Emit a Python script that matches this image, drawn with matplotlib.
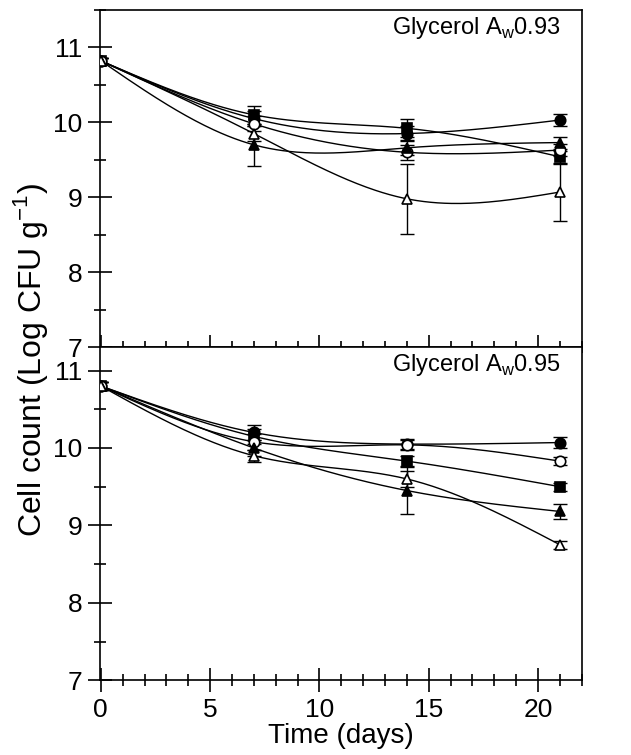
import numpy as np
import matplotlib
matplotlib.use("Agg")
import matplotlib.pyplot as plt
from matplotlib.ticker import MultipleLocator

plt.rcParams['font.family'] = ['Liberation Sans', 'DejaVu Sans']
plt.rcParams['mathtext.fontset'] = 'custom'
plt.rcParams['mathtext.rm'] = 'Liberation Sans'

days = np.array([0, 7, 14, 21])

# Aw 0.93
top_filled_circle = [10.82, 10.05, 9.85, 10.03]
top_filled_square = [10.82, 10.10, 9.92, 9.54]
top_open_circle = [10.82, 9.98, 9.60, 9.63]
top_filled_tri = [10.82, 9.70, 9.66, 9.73]
top_open_tri = [10.82, 9.85, 8.98, 9.07]
top_err = {
    'fc': [0.04, 0.10, 0.10, 0.08],
    'fs': [0.04, 0.12, 0.12, 0.08],
    'oc': [0.04, 0.10, 0.10, 0.08],
    'ft': [0.04, 0.28, 0.10, 0.08],
    'ot': [0.04, 0.10, 0.47, 0.38],
}

# Aw 0.95
bot_filled_circle = [10.80, 10.20, 10.05, 10.07]
bot_filled_square = [10.80, 10.15, 9.83, 9.50]
bot_open_circle = [10.80, 10.08, 10.04, 9.83]
bot_filled_tri = [10.80, 10.00, 9.45, 9.18]
bot_open_tri = [10.80, 9.90, 9.60, 8.75]
bot_err = {
    'fc': [0.05, 0.10, 0.06, 0.07],
    'fs': [0.05, 0.10, 0.06, 0.05],
    'oc': [0.05, 0.10, 0.06, 0.05],
    'ft': [0.05, 0.10, 0.30, 0.10],
    'ot': [0.05, 0.08, 0.10, 0.05],
}

styles = {
    'fc': dict(marker='o', mfc='black'),
    'fs': dict(marker='s', mfc='black'),
    'oc': dict(marker='o', mfc='white'),
    'ft': dict(marker='^', mfc='black'),
    'ot': dict(marker='^', mfc='white'),
}


def natural_spline(x, y, xs):
    # natural cubic spline, used only to draw the smooth connecting line
    x = np.asarray(x, float)
    y = np.asarray(y, float)
    n = len(x)
    h = np.diff(x)
    A = np.zeros((n, n))
    b = np.zeros(n)
    A[0, 0] = A[-1, -1] = 1
    for i in range(1, n - 1):
        A[i, i - 1] = h[i - 1]
        A[i, i] = 2 * (h[i - 1] + h[i])
        A[i, i + 1] = h[i]
        b[i] = 6 * ((y[i + 1] - y[i]) / h[i] - (y[i] - y[i - 1]) / h[i - 1])
    M = np.linalg.solve(A, b)
    out = np.empty_like(xs)
    for k, t in enumerate(xs):
        i = min(np.searchsorted(x, t, side='right') - 1, n - 2)
        i = max(i, 0)
        a, c = x[i + 1] - t, t - x[i]
        out[k] = (M[i] * a ** 3 + M[i + 1] * c ** 3) / (6 * h[i]) \
            + (y[i] / h[i] - M[i] * h[i] / 6) * a \
            + (y[i + 1] / h[i] - M[i + 1] * h[i] / 6) * c
    return out


fig = plt.figure(figsize=(6.31, 7.55), dpi=100)
ax1 = fig.add_axes([0.158, 0.540, 0.764, 0.447])
ax2 = fig.add_axes([0.158, 0.099, 0.764, 0.441])

xs = np.linspace(0, 21, 200)


def draw(ax, series, errs, label, ylim):
    for key, vals in series.items():
        ax.plot(xs, natural_spline(days, vals, xs), color='black', lw=1.0,
                zorder=2)
        ax.errorbar(days, vals, yerr=errs[key], fmt='none', ecolor='black',
                    elinewidth=1.0, capsize=5, capthick=1.0, zorder=3)
        ax.plot(days, vals, ls='none', mec='black', ms=7.5, mew=1.2,
                zorder=4, **styles[key])
    ax.set_xlim(-0.05, 22)
    ax.set_ylim(*ylim)
    ax.yaxis.set_major_locator(MultipleLocator(1))
    ax.yaxis.set_minor_locator(MultipleLocator(0.5))
    ax.xaxis.set_major_locator(MultipleLocator(5))
    ax.xaxis.set_minor_locator(MultipleLocator(1))
    ax.tick_params(which='major', direction='inout', length=17, width=1.2,
                   labelsize=19, top=False, right=False, pad=4)
    ax.tick_params(which='minor', direction='inout', length=9, width=1.2,
                   top=False, right=False)
    for s in ax.spines.values():
        s.set_linewidth(1.2)
    ax.text(0.607, 0.985, label, transform=ax.transAxes, ha='left', va='top',
            fontsize=17)


draw(ax1, {'fc': top_filled_circle, 'fs': top_filled_square,
           'oc': top_open_circle, 'ft': top_filled_tri, 'ot': top_open_tri},
     top_err, r'Glycerol A$_{\mathregular{w}}$0.93', (7, 11.5))
draw(ax2, {'fc': bot_filled_circle, 'fs': bot_filled_square,
           'oc': bot_open_circle, 'ft': bot_filled_tri, 'ot': bot_open_tri},
     bot_err, r'Glycerol A$_{\mathregular{w}}$0.95', (7, 11.3))

ax1.set_xticklabels([])
ax2.set_xlabel('Time (days)', fontsize=20, labelpad=1)
fig.text(0.049, 0.523, r'Cell count (Log CFU g$^{\mathregular{-1}}$)',
         rotation=90, ha='center', va='center', fontsize=23)

fig.savefig('out.png', dpi=100)
